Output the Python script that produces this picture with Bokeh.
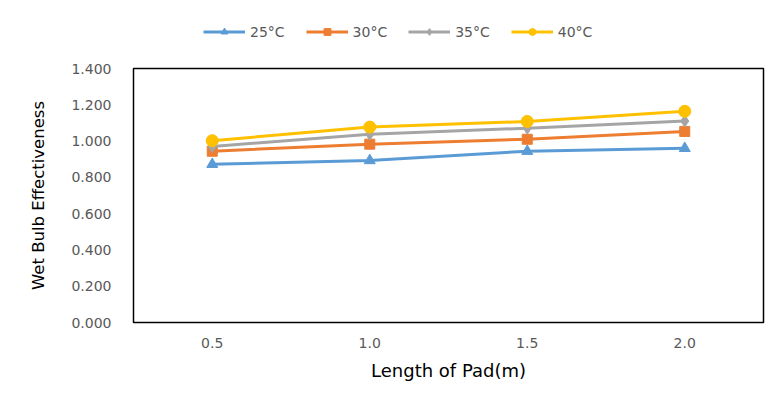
from bokeh.plotting import figure
from bokeh.layouts import column
from bokeh.models import Range1d, FixedTicker, Legend, LegendItem, NumeralTickFormatter
from bokeh.embed import file_html
from bokeh.resources import INLINE

lengths = [0.5, 1.0, 1.5, 2.0]
x_tick_labels = ["0.5", "1.0", "1.5", "2.0"]
y_ticks = [0.0, 0.2, 0.4, 0.6, 0.8, 1.0, 1.2, 1.4]
series_names = ["25°C", "30°C", "35°C", "40°C"]
eff_25 = [0.872, 0.893, 0.944, 0.960]
eff_30 = [0.944, 0.983, 1.010, 1.053]
eff_35 = [0.970, 1.038, 1.071, 1.110]
eff_40 = [1.002, 1.077, 1.108, 1.164]
series_values = [eff_25, eff_30, eff_35, eff_40]
colors = ["#5B9BD5", "#ED7D31", "#A5A5A5", "#FFC000"]
markers = ["triangle", "square", "diamond", "circle"]
marker_sizes = [11, 10, 12, 12]

FONT = "DejaVu Sans"

# legend strip
lg = figure(width=770, height=45, output_backend="svg", toolbar_location=None,
            x_range=Range1d(10, 11), y_range=Range1d(10, 11),
            x_axis_location=None, y_axis_location=None, min_border=0)
lg.xgrid.visible = False
lg.ygrid.visible = False
lg.outline_line_color = None

# main chart
p = figure(width=770, height=354, output_backend="svg", toolbar_location=None,
           x_range=Range1d(0.25, 2.25), y_range=Range1d(0, 1.4),
           min_border_left=133, min_border_right=7, min_border_top=23, min_border_bottom=77)
p.xgrid.visible = False
p.ygrid.visible = False
p.outline_line_color = "black"
p.outline_line_width = 1.5

items = []
for name, vals, c, m, s in zip(series_names, series_values, colors, markers, marker_sizes):
    p.line(lengths, vals, line_color=c, line_width=3)
    p.scatter(lengths, vals, marker=m, size=s, fill_color=c, line_color=c)
    r1 = lg.line(lengths, vals, line_color=c, line_width=3)
    r2 = lg.scatter(lengths, vals, marker=m, size=s, fill_color=c, line_color=c)
    items.append(LegendItem(label=name, renderers=[r1, r2]))

legend = Legend(items=items, orientation="horizontal", location=(70, 5),
                label_text_font=FONT, label_text_font_size="14px", label_text_color="#595959",
                glyph_width=42, glyph_height=17, spacing=21, label_standoff=5,
                border_line_color=None, background_fill_alpha=0, padding=0, margin=0)
lg.add_layout(legend, "center")

for ax in (p.xaxis[0], p.yaxis[0]):
    ax.axis_line_color = None
    ax.major_tick_line_color = None
    ax.minor_tick_line_color = None
    ax.major_label_text_font = FONT
    ax.major_label_text_font_size = "14px"
    ax.major_label_text_color = "#595959"
    ax.axis_label_text_font = FONT
    ax.axis_label_text_font_style = "normal"
    ax.axis_label_text_color = "#000000"

p.xaxis.ticker = FixedTicker(ticks=lengths)
p.xaxis.major_label_overrides = {v: t for v, t in zip(lengths, x_tick_labels)}
p.xaxis.axis_label = "Length of Pad(m)"
p.xaxis.axis_label_text_font_size = "18px"
p.xaxis.major_label_standoff = 9
p.xaxis.axis_label_standoff = 9

p.yaxis.ticker = FixedTicker(ticks=y_ticks)
p.yaxis.formatter = NumeralTickFormatter(format="0.000")
p.yaxis.axis_label = "Wet Bulb Effectiveness"
p.yaxis.axis_label_text_font_size = "16.5px"
p.yaxis.major_label_standoff = 16
p.yaxis.axis_label_standoff = 20

layout = column(lg, p, spacing=0)
open("out.html", "w").write(file_html(layout, INLINE))
